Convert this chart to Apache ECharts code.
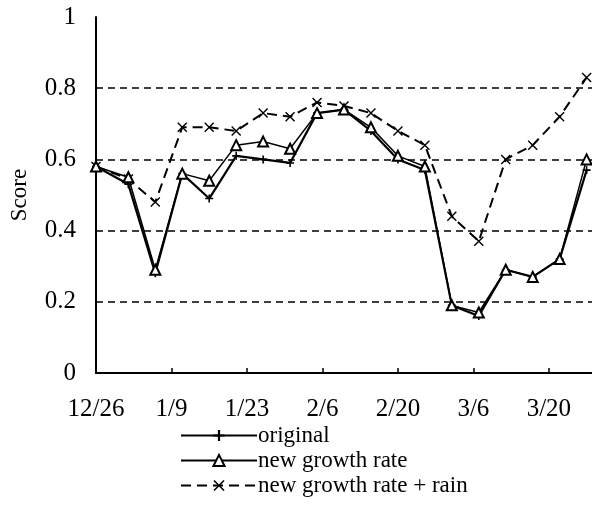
<!DOCTYPE html>
<html>
<head>
    <meta charset="utf-8">
    <title>Score</title>
    <style>
        html, body, #chart {
            margin: 0;
            padding: 0;
            width: 592px;
            height: 518px;
            background: #fff;
        }
    </style>
</head>
<body>
    <div id="chart"></div>
    <script src="https://cdn.jsdelivr.net/npm/echarts@6/dist/echarts.min.js"></script>
    <script>
        // days after 12/26 for each observation
        var xDays = [0, 6, 11, 16, 21, 26, 31, 36, 41, 46, 51, 56, 61, 66, 71, 76, 81, 86, 91];
        var tickLabels = ['12/26', '1/9', '1/23', '2/6', '2/20', '3/6', '3/20'];

        var original = [0.58, 0.53, 0.28, 0.56, 0.49, 0.61, 0.60, 0.59, 0.73, 0.74, 0.68, 0.60, 0.57, 0.19, 0.16, 0.29, 0.27, 0.32, 0.57];
        var newGrowth = [0.58, 0.55, 0.29, 0.56, 0.54, 0.64, 0.65, 0.63, 0.73, 0.74, 0.69, 0.61, 0.58, 0.19, 0.17, 0.29, 0.27, 0.32, 0.60];
        var withRain = [0.58, 0.545, 0.48, 0.69, 0.69, 0.68, 0.73, 0.72, 0.76, 0.75, 0.73, 0.68, 0.64, 0.44, 0.37, 0.60, 0.64, 0.72, 0.83];

        function pairs(vals) {
            return vals.map(function (v, i) { return [xDays[i], v]; });
        }

        var font = '"Liberation Serif", "DejaVu Serif", serif';
        var chart = echarts.init(document.getElementById('chart'));

        chart.setOption({
            animation: false,
            backgroundColor: '#fff',
            grid: { left: 95, right: 0, top: 17, bottom: 145 },
            legend: {
                orient: 'vertical',
                left: 180,
                top: 424,
                height: 94,
                padding: 0,
                itemWidth: 76,
                itemHeight: 14,
                itemGap: 2,
                textStyle: { fontFamily: font, fontSize: 23, color: '#000', padding: [0, 0, 0, -4] },
                data: ['original', 'new growth rate', 'new growth rate + rain']
            },
            xAxis: {
                type: 'value',
                min: 0,
                max: 92,
                interval: 14,
                axisLine: { lineStyle: { color: '#000', width: 2 } },
                axisTick: { show: true, inside: true, length: 5, lineStyle: { color: '#000', width: 1.5 } },
                splitLine: { show: false },
                axisLabel: {
                    margin: 24,
                    fontFamily: font,
                    fontSize: 25,
                    color: '#000',
                    showMaxLabel: false,
                    formatter: function (v) { return tickLabels[v / 14] || ''; }
                }
            },
            yAxis: {
                type: 'value',
                min: 0,
                max: 1,
                interval: 0.2,
                name: 'Score',
                nameLocation: 'middle',
                nameRotate: 90,
                nameGap: 65,
                nameTextStyle: { fontFamily: font, fontSize: 23, color: '#000' },
                axisLine: { show: true, lineStyle: { color: '#000', width: 2 } },
                axisTick: { show: false },
                axisLabel: { margin: 20, fontFamily: font, fontSize: 25, color: '#000' },
                splitLine: {
                    show: true,
                    showMaxLine: false,
                    lineStyle: { color: '#000', type: [7, 5], width: 1.5 }
                }
            },
            series: [{
                name: 'new growth rate + rain',
                type: 'line',
                data: pairs(withRain),
                symbol: 'path://M0,1L1,0L10,9L9,10ZM9,0L10,1L1,10L0,9Z',
                symbolSize: 10,
                color: '#000',
                lineStyle: { color: '#000', width: 2, type: [10, 6] },
                itemStyle: { color: '#000' }
            }, {
                name: 'original',
                type: 'line',
                data: pairs(original),
                symbol: 'path://M4,0H6V10H4ZM0,4H10V6H0Z',
                symbolSize: 8,
                color: '#000',
                lineStyle: { color: '#000', width: 2.2 },
                itemStyle: { color: '#000' }
            }, {
                name: 'new growth rate',
                type: 'line',
                data: pairs(newGrowth),
                symbol: 'emptyTriangle',
                symbolSize: 10,
                color: '#000',
                lineStyle: { color: '#000', width: 1.5 },
                itemStyle: { color: '#000', borderWidth: 1.5 }
            }]
        });
    </script>
</body>
</html>
